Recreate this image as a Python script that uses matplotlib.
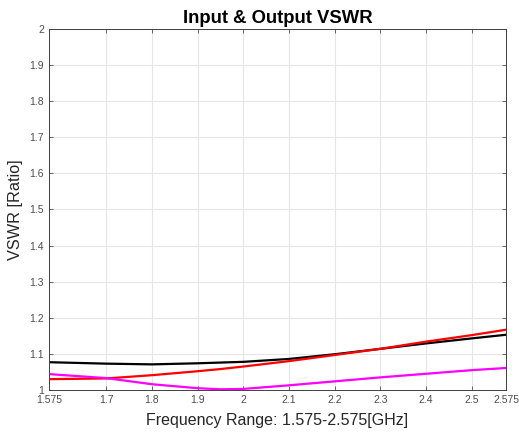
import matplotlib as mpl
mpl.use('Agg')
import matplotlib.pyplot as plt
import numpy as np

plt.rcParams['font.family'] = ['Liberation Sans', 'DejaVu Sans']

# frequency points (GHz) and VSWR
freq = [1.575, 1.7, 1.8, 1.9, 1.95, 2.0, 2.1, 2.2, 2.3, 2.4, 2.5, 2.575]
vswr_black = [1.077, 1.073, 1.071, 1.074, 1.076, 1.078, 1.086, 1.099, 1.114, 1.129, 1.143, 1.153]
vswr_red = [1.030, 1.032, 1.041, 1.052, 1.058, 1.065, 1.080, 1.097, 1.114, 1.134, 1.152, 1.167]
vswr_magenta = [1.044, 1.033, 1.016, 1.005, 1.002, 1.003, 1.013, 1.024, 1.035, 1.045, 1.055, 1.061]

xticks = [1.575, 1.7, 1.8, 1.9, 2.0, 2.1, 2.2, 2.3, 2.4, 2.5, 2.575]
xticklabels = ['1.575', '1.7', '1.8', '1.9', '2', '2.1', '2.2', '2.3', '2.4', '2.5', '2.575']
yticks = [1, 1.1, 1.2, 1.3, 1.4, 1.5, 1.6, 1.7, 1.8, 1.9, 2]
yticklabels = ['1', '1.1', '1.2', '1.3', '1.4', '1.5', '1.6', '1.7', '1.8', '1.9', '2']

fig = plt.figure(figsize=(5.19, 4.36), dpi=100)
ax = fig.add_axes([0.0944, 0.1055, 0.8806, 0.828])

ax.plot(freq, vswr_black, color='black', lw=1.6)
ax.plot(freq, vswr_red, color='red', lw=1.6)
ax.plot(freq, vswr_magenta, color='magenta', lw=1.6)

ax.set_xlim(1.575, 2.575)
ax.set_ylim(1, 2)
ax.set_xticks(xticks)
ax.set_xticklabels(xticklabels)
ax.set_yticks(yticks)
ax.set_yticklabels(yticklabels)
ax.grid(True, color='#e6e6e6', lw=0.8)
ax.set_axisbelow(True)
ax.tick_params(direction='in', top=True, right=True, labelsize=7.5,
               colors='#4d4d4d', length=3, width=0.6)
for s in ax.spines.values():
    s.set_color('#404040')
    s.set_linewidth(0.7)

ax.set_title('Input & Output VSWR', fontsize=13.3, fontweight='bold', pad=4)
ax.set_xlabel('Frequency Range: 1.575-2.575[GHz]', fontsize=11.5, color='#262626', labelpad=6)
ax.set_ylabel('VSWR [Ratio]', fontsize=11.7, color='#262626', labelpad=5)

plt.savefig('out.png', dpi=100)
